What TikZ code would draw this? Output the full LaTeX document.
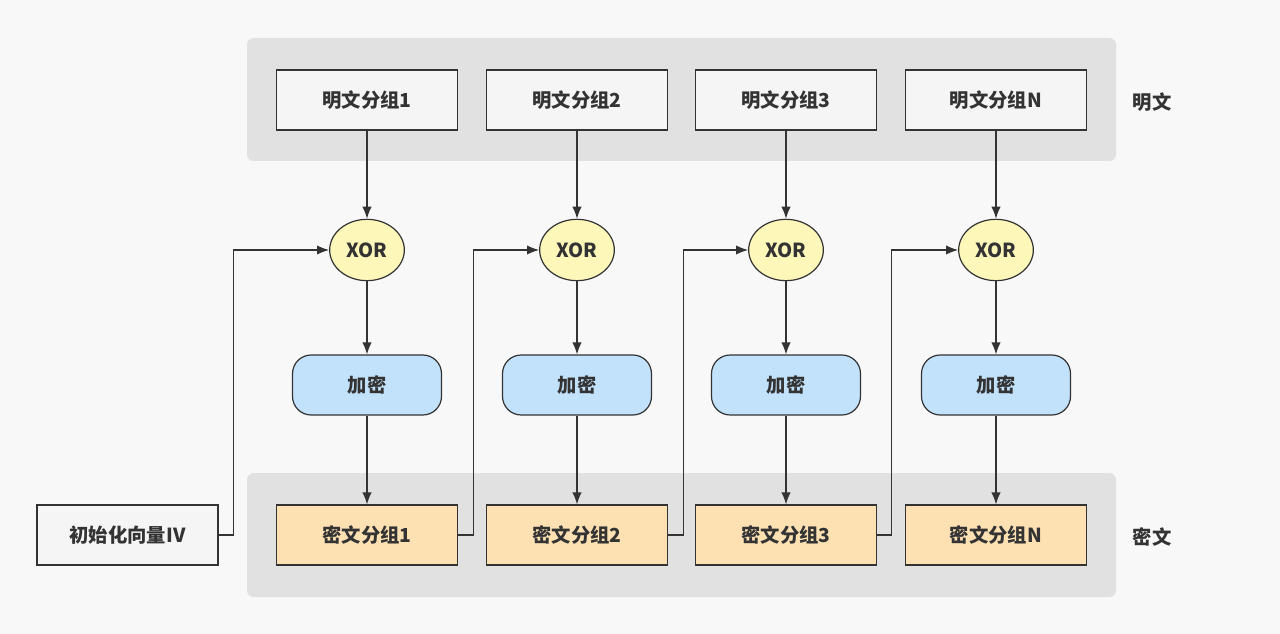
\documentclass[tikz,border=0pt]{standalone}
\usepackage{fontspec}
\setmainfont{Noto Sans CJK SC}
\usetikzlibrary{arrows.meta,shapes.geometric,positioning}
\definecolor{bgcol}{HTML}{F8F8F8}
\definecolor{bandcol}{HTML}{E1E1E1}
\definecolor{linecol}{HTML}{333333}
\definecolor{boxcol}{HTML}{F5F5F5}
\definecolor{xorcol}{HTML}{FDF7BA}
\definecolor{enccol}{HTML}{C2E1FB}
\definecolor{ciphcol}{HTML}{FDE1B3}

\begin{document}
\begin{tikzpicture}[
                   x = 0.75pt,
                   y = -0.75pt,
     every node/.style = {font=\bfseries\fontsize{14.5}{17}\selectfont, text=linecol},
          band/.style = {fill=bandcol, rounded corners=5pt},
         plain/.style = {draw=linecol, fill=boxcol, line width=0.9pt,
                          minimum width=135.75pt, minimum height=45pt},
        xornode/.style = {draw=linecol, fill=xorcol, ellipse, line width=0.9pt,
                          minimum width=56pt, minimum height=46pt, inner sep=0pt},
        encnode/.style = {draw=linecol, fill=enccol, line width=0.9pt, rounded corners=14pt,
                          minimum width=111.75pt, minimum height=45pt},
       ciphnode/.style = {plain, fill=ciphcol},
           flow/.style = {draw=linecol, line width=0.9pt, -{Latex[length=9pt,width=7pt]}},
                     ]
% background and the two grey bands
\fill[bgcol] (0,0) rectangle (1280,634);
\path[band] (247,38) rectangle (1116,161);
\path[band] (247,473) rectangle (1116,597);

% columns
\foreach \i/\t/\cx in {1/1/367, 2/2/577, 3/3/786, 4/N/996} {
    \node[plain]    (p\i) at (\cx,100) {明文分组\t};
    \node[xornode]  (x\i) at (\cx,250) {XOR};
    \node[encnode]  (e\i) at (\cx,385) {加密};
    \node[ciphnode] (c\i) at (\cx,535) {密文分组\t};
    \draw[flow] (p\i) -- (x\i);
    \draw[flow] (x\i) -- (e\i);
    \draw[flow] (e\i) -- (c\i);
}

\node[plain] (iv) at (127.5,535) {初始化向量IV};

\node (plainlbl)  at (1152,102) {明文};
\node (cipherlbl) at (1152,537) {密文};

% chaining
\draw[flow] (iv.east) -- ++(15,0) |- (x1.west);
\draw[flow] (c1.east) -- ++(15,0) |- (x2.west);
\draw[flow] (c2.east) -- ++(15,0) |- (x3.west);
\draw[flow] (c3.east) -- ++(14,0) |- (x4.west);
\end{tikzpicture}
\end{document}
